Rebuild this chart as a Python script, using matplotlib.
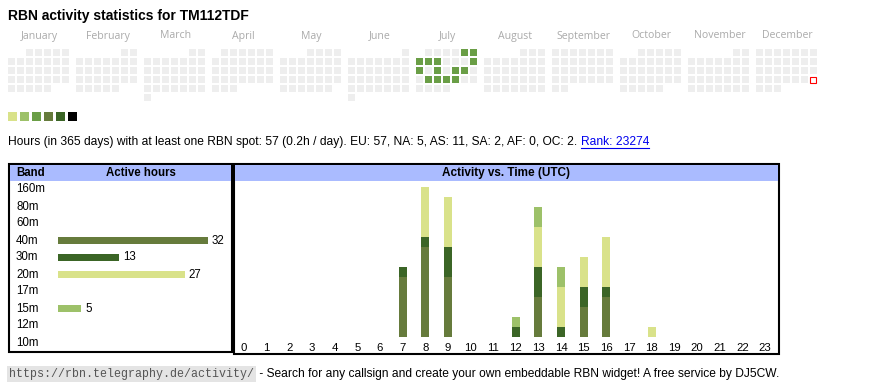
import datetime as dt
import matplotlib
matplotlib.use("Agg")
import matplotlib.pyplot as plt
from matplotlib.patches import Rectangle

plt.rcParams['font.family'] = ['Liberation Sans', 'DejaVu Sans']

# --- data ---
callsign = "TM112TDF"
year = 2025
months = ["January", "February", "March", "April", "May", "June", "July",
          "August", "September", "October", "November", "December"]
active_days = ["2025-07-05", "2025-07-06", "2025-07-07", "2025-07-08", "2025-07-09",
               "2025-07-13", "2025-07-14", "2025-07-16", "2025-07-18", "2025-07-19",
               "2025-07-22", "2025-07-23", "2025-07-24", "2025-07-25"]
active_levels = [2] * len(active_days)  # index into level_colors
today = "2025-12-28"

level_colors = ["#d9e28a", "#9dc169", "#6a9e46", "#667b3c", "#3b6526", "#000000"]

bands = ["160m", "80m", "60m", "40m", "30m", "20m", "17m", "15m", "12m", "10m"]
band_hours = [0, 0, 0, 32, 13, 27, 0, 5, 0, 0]
band_colors = {"40m": "#667b3c", "30m": "#3b6526", "20m": "#d9e28a", "15m": "#9dc169"}

hours = list(range(24))
act_hours = {
    "40m": [0, 0, 0, 0, 0, 0, 0, 6, 9, 6, 0, 0, 0, 4, 0, 3, 4, 0, 0, 0, 0, 0, 0, 0],
    "30m": [0, 0, 0, 0, 0, 0, 0, 1, 1, 3, 0, 0, 1, 3, 1, 2, 1, 0, 0, 0, 0, 0, 0, 0],
    "20m": [0, 0, 0, 0, 0, 0, 0, 0, 5, 5, 0, 0, 0, 4, 4, 3, 5, 0, 1, 0, 0, 0, 0, 0],
    "15m": [0, 0, 0, 0, 0, 0, 0, 0, 0, 0, 0, 0, 1, 2, 2, 0, 0, 0, 0, 0, 0, 0, 0, 0],
}

stats_text = ("Hours (in 365 days) with at least one RBN spot: 57 (0.2h / day). "
              "EU: 57, NA: 5, AS: 11, SA: 2, AF: 0, OC: 2. ")
rank_text = "Rank: 23274"
footer_url = "https://rbn.telegraphy.de/activity/"
footer_text = " - Search for any callsign and create your own embeddable RBN widget! A free service by DJ5CW."

W, H = 870, 390
fig = plt.figure(figsize=(W / 100, H / 100), dpi=100)
fig.patch.set_facecolor("white")


def frac(x0, y0, x1, y1):
    # pixel box -> figure fraction
    return [x0 / W, 1 - y1 / H, (x1 - x0) / W, (y1 - y0) / H]


ax = fig.add_axes([0, 0, 1, 1])
ax.set_xlim(0, W)
ax.set_ylim(H, 0)
ax.axis("off")

ax.text(8, 16, f"RBN activity statistics for {callsign}", fontsize=10, fontweight="bold",
        va="center", ha="left")

# calendar
lvl = dict(zip(active_days, active_levels))
start = dt.date(year, 1, 1)
for m, name in enumerate(months):
    ax.text(8 + m * 68 + 31.5, 38.5, name, fontsize=7.6, color="#aaaaaa",
            family=["Open Sans", "DejaVu Sans"], ha="center", va="baseline")
d = start
while d.year == year:
    m = d.month - 1
    first = d.replace(day=1).weekday()
    row = (d.day - 1 + first) // 7
    x = 8 + m * 68 + d.weekday() * 9
    y = 49 + row * 9
    key = d.isoformat()
    if key == today:
        ax.add_patch(Rectangle((x + 0.5, y + 0.5), 6, 6, facecolor="white",
                               edgecolor="red", lw=0.8))
    else:
        c = level_colors[lvl[key]] if key in lvl else "#eeeeee"
        ax.add_patch(Rectangle((x, y), 7, 7, facecolor=c, edgecolor="none"))
    d += dt.timedelta(days=1)

for i, c in enumerate(level_colors):
    ax.add_patch(Rectangle((8 + i * 12, 111.5), 9.5, 9.5, facecolor=c, edgecolor="none"))

t1 = ax.text(8, 142, stats_text, fontsize=8.66, va="center", ha="left")

# table boxes
ax.add_patch(Rectangle((9, 164), 223, 188, facecolor="white", edgecolor="black", lw=1.5))
ax.add_patch(Rectangle((10, 165), 221, 16, facecolor="#aabbff", edgecolor="none"))
ax.add_patch(Rectangle((234, 164), 545, 190, facecolor="white", edgecolor="black", lw=1.5))
ax.add_patch(Rectangle((235, 165), 543, 16, facecolor="#aabbff", edgecolor="none"))
ax.text(16, 173, "Band", fontsize=8.3, fontweight="bold", va="center")
ax.text(141, 173, "Active hours", fontsize=8.3, fontweight="bold", va="center", ha="center")
ax.text(506, 173, "Activity vs. Time (UTC)", fontsize=8.5, fontweight="bold",
        va="center", ha="center")

t_url = ax.text(9, 374, footer_url, fontsize=8.4, family=["Liberation Mono", "DejaVu Sans Mono"],
                color="#555555", va="center", ha="left",
                bbox=dict(boxstyle="square,pad=0.15", facecolor="#e4e4e4", edgecolor="none"))

# band table bars
px_unit = 150 / 32
axb = fig.add_axes(frac(10, 181, 232, 351))
axb.set_xlim((10 - 58) / px_unit, (232 - 58) / px_unit)
axb.set_ylim(len(bands) - 0.5, -0.5)
axb.axis("off")
axb.barh(range(len(bands)), band_hours, height=0.38,
         color=[band_colors.get(b, "#cccccc") for b in bands])
for i, (b, v) in enumerate(zip(bands, band_hours)):
    axb.text((16 - 58) / px_unit, i, b, fontsize=8.3, va="center", ha="left")
    if v > 0:
        axb.text(v + 4 / px_unit, i, str(v), fontsize=8.3, va="center", ha="left")

# activity vs time
h_px = 22.65
axa = fig.add_axes(frac(235, 181, 777, 337))
axa.set_facecolor("none")
axa.set_xlim((235 - 244) / h_px, (777 - 244) / h_px)
axa.set_ylim(0, 15.6)
bottom = [0] * 24
for b in ["40m", "30m", "20m", "15m"]:
    axa.bar(hours, act_hours[b], width=8 / h_px, bottom=bottom, color=band_colors[b])
    bottom = [p + q for p, q in zip(bottom, act_hours[b])]
for s in axa.spines.values():
    s.set_visible(False)
axa.set_yticks([])
axa.set_xticks(hours)
axa.set_xticklabels([str(h) for h in hours], fontsize=8.2)
axa.tick_params(axis="x", length=0, pad=4)

# place texts after measured ones
fig.canvas.draw()
r = fig.canvas.get_renderer()
inv = ax.transData.inverted()
bb = t1.get_window_extent(r)
x_end = inv.transform((bb.x1, bb.y0))[0]
t2 = ax.text(x_end, 142, rank_text, fontsize=8.66, color="#0000ee", va="center", ha="left")
fig.canvas.draw()
bb2 = t2.get_window_extent(r)
(rx0, ry0), (rx1, _) = inv.transform([(bb2.x0, bb2.y0), (bb2.x1, bb2.y0)])
ax.plot([rx0, rx1], [147.5, 147.5], color="#0000ee", lw=0.8)

bb3 = t_url.get_window_extent(r)
ux = inv.transform((bb3.x1, bb3.y0))[0]
ax.text(ux + 2, 374, footer_text, fontsize=8.68, va="center", ha="left")

fig.savefig("out.png", dpi=100)
